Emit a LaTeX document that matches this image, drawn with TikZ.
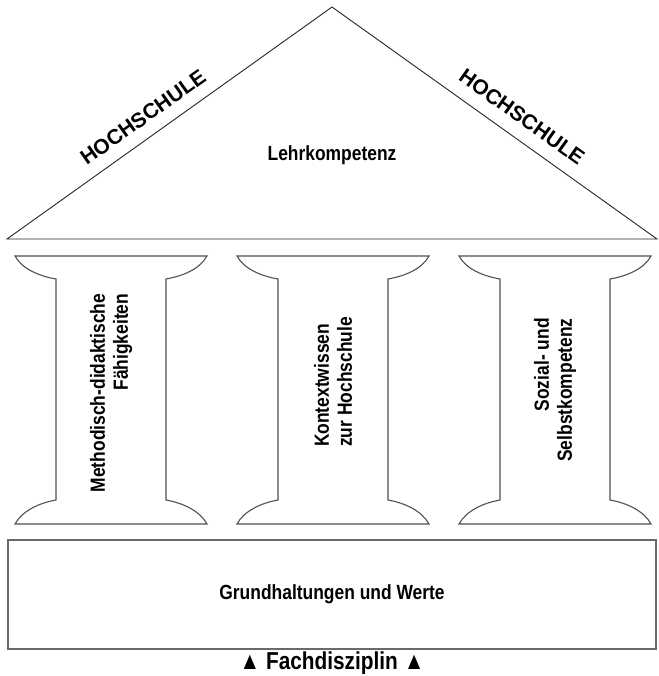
\documentclass[tikz,border=0pt]{standalone}
\usepackage{fontspec}
\setsansfont{Liberation Sans}
\newfontfamily\condsans[FakeStretch=0.85]{Liberation Sans}
\usepackage{tikz}
\usetikzlibrary{positioning}
\tikzset{every node/.style={font=\sffamily\bfseries}}
\usepackage{xcolor}
\definecolor{pillargray}{HTML}{505050}
\definecolor{basegray}{HTML}{6A6A6A}

\begin{document}
\begin{tikzpicture}[
  x=1pt, y=-1pt,
  node distance=2pt,
  roofline/.style={draw=black!85, line width=0.9pt},
  pillarline/.style={draw=pillargray, line width=1.1pt},
  basebox/.style={draw=basegray, line width=1.8pt, minimum width=648pt, minimum height=109pt},
  rooftext/.style={font=\sffamily\bfseries\fontsize{21}{24}\selectfont},
  maintext/.style={font=\condsans\bfseries\fontsize{20.5}{24}\selectfont},
  pillartext/.style={font=\condsans\bfseries\fontsize{20.5}{23}\selectfont, rotate=90}
]
  \useasboundingbox (0,0) rectangle (658,676);

  % Dach
  \coordinate (apex) at (332,7);
  \coordinate (eaveL) at (7,239);
  \coordinate (eaveR) at (657,239);
  \draw[roofline] (eaveL) -- (apex) -- (eaveR) -- cycle;
  \node[rooftext, rotate=35.5] (hsL) at (143,117) {HOCHSCHULE};
  \node[rooftext, rotate=-35.5] (hsR) at (522,117) {HOCHSCHULE};
  \node[maintext] (lehr) at (332,155) {Lehrkompetenz};

  % Saeulen
  \foreach \cx in {111,333,555} {
    \draw[pillarline] (\cx-96,256) -- (\cx+96,256)
      .. controls (\cx+89,269) and (\cx+72,276) .. (\cx+55,279)
      -- (\cx+55,500)
      .. controls (\cx+72,503) and (\cx+89,511) .. (\cx+96,524)
      -- (\cx-96,524)
      .. controls (\cx-89,511) and (\cx-72,503) .. (\cx-55,500)
      -- (\cx-55,279)
      .. controls (\cx-72,276) and (\cx-89,269) .. cycle;
  }
  \node[pillartext, align=right] (col1) at (111,393) {Methodisch-didaktische\\Fähigkeiten};
  \node[pillartext, align=left] (col2) at (333,382) {Kontextwissen\\zur Hochschule};
  \node[pillartext, align=right] (col3) at (555,390) {Sozial- und\\Selbstkompetenz};

  % Fundament
  \node[basebox, maintext] (base) at (332,594.5) {Grundhaltungen und Werte};
  \node[maintext, font=\condsans\bfseries\fontsize{24.5}{28}\selectfont, inner sep=0pt, below=of base] (fach) {▲ Fachdisziplin ▲};
\end{tikzpicture}
\end{document}
